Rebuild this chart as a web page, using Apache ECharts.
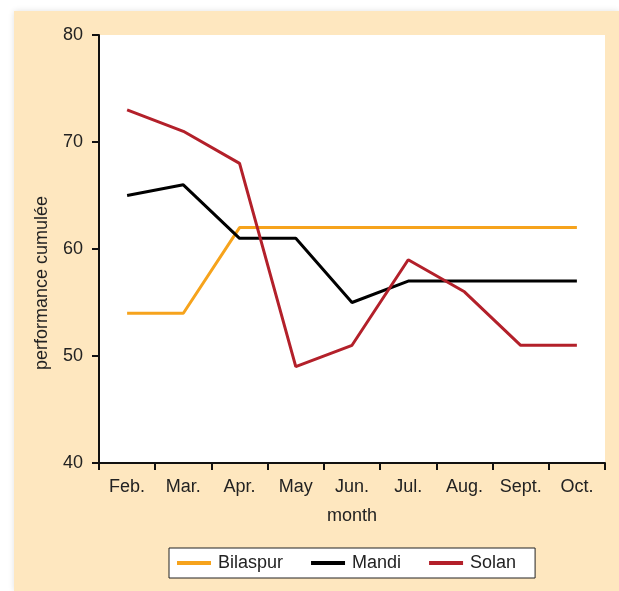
<!DOCTYPE html>
<html>
<head>
<meta charset="utf-8">
<script src="https://cdn.jsdelivr.net/npm/echarts@6/dist/echarts.min.js"></script>
<style>
  html, body { margin: 0; padding: 0; background: #fff; }
  #panel { position: absolute; left: 14px; top: 11px; width: 605px; height: 580px; background: #fee7bf; box-shadow: 0 0 6px rgba(0,0,0,0.12); }
  #chart { position: absolute; left: 0; top: 0; width: 619px; height: 591px; }
</style>
</head>
<body>
<div id="panel"></div>
<div id="chart"></div>
<script>
var months = ['Feb.', 'Mar.', 'Apr.', 'May', 'Jun.', 'Jul.', 'Aug.', 'Sept.', 'Oct.'];
var bilaspur = [54, 54, 62, 62, 62, 62, 62, 62, 62];
var mandi = [65, 66, 61, 61, 55, 57, 57, 57, 57];
var solan = [73, 71, 68, 49, 51, 59, 56, 51, 51];

var font = 'Liberation Sans, Arial, sans-serif';

function makeLine(name, data, color) {
    return {
        name: name,
        type: 'line',
        data: data,
        symbol: 'none',
        lineStyle: { color: color, width: 3 },
        itemStyle: { color: color },
        emphasis: { disabled: true }
    };
}

var chart = echarts.init(document.getElementById('chart'));
var option = {
    animation: false,
    backgroundColor: 'transparent',
    textStyle: { fontFamily: font },
    grid: { left: 99, top: 35, right: 14, bottom: 128, backgroundColor: '#fff', show: true, borderWidth: 0 },
    legend: {
        left: 169,
        top: 548,
        backgroundColor: '#fff',
        borderColor: '#222',
        borderWidth: 1,
        padding: [6, 19, 6, 8],
        itemWidth: 34,
        itemHeight: 4,
        itemGap: 28,
        icon: 'rect',
        textStyle: { fontSize: 18, color: '#222', fontFamily: font, padding: [0, 0, 0, 2] },
        data: ['Bilaspur', 'Mandi', 'Solan']
    },
    xAxis: {
        type: 'category',
        data: months,
        boundaryGap: true,
        name: 'month',
        nameLocation: 'middle',
        nameGap: 44,
        nameTextStyle: { fontSize: 18, color: '#222' },
        axisLine: { lineStyle: { color: '#111', width: 2 } },
        axisTick: { show: true, length: 7, inside: false, lineStyle: { color: '#111', width: 2 } },
        axisLabel: { fontSize: 18, color: '#222', margin: 15 },
        splitLine: { show: false }
    },
    yAxis: {
        type: 'value',
        min: 40,
        max: 80,
        interval: 10,
        name: 'performance cumulée',
        nameLocation: 'middle',
        nameGap: 48,
        nameTextStyle: { fontSize: 18, color: '#222', padding: [0, 68, 0, 0] },
        axisLine: { show: true, lineStyle: { color: '#111', width: 2 } },
        axisTick: { show: true, length: 7, lineStyle: { color: '#111', width: 2 } },
        axisLabel: { fontSize: 18, color: '#222', margin: 16 },
        splitLine: { show: false }
    },
    series: [
        makeLine('Bilaspur', bilaspur, '#f6a31c'),
        makeLine('Mandi', mandi, '#000000'),
        makeLine('Solan', solan, '#b3202a')
    ]
};
chart.setOption(option);
</script>
</body>
</html>
